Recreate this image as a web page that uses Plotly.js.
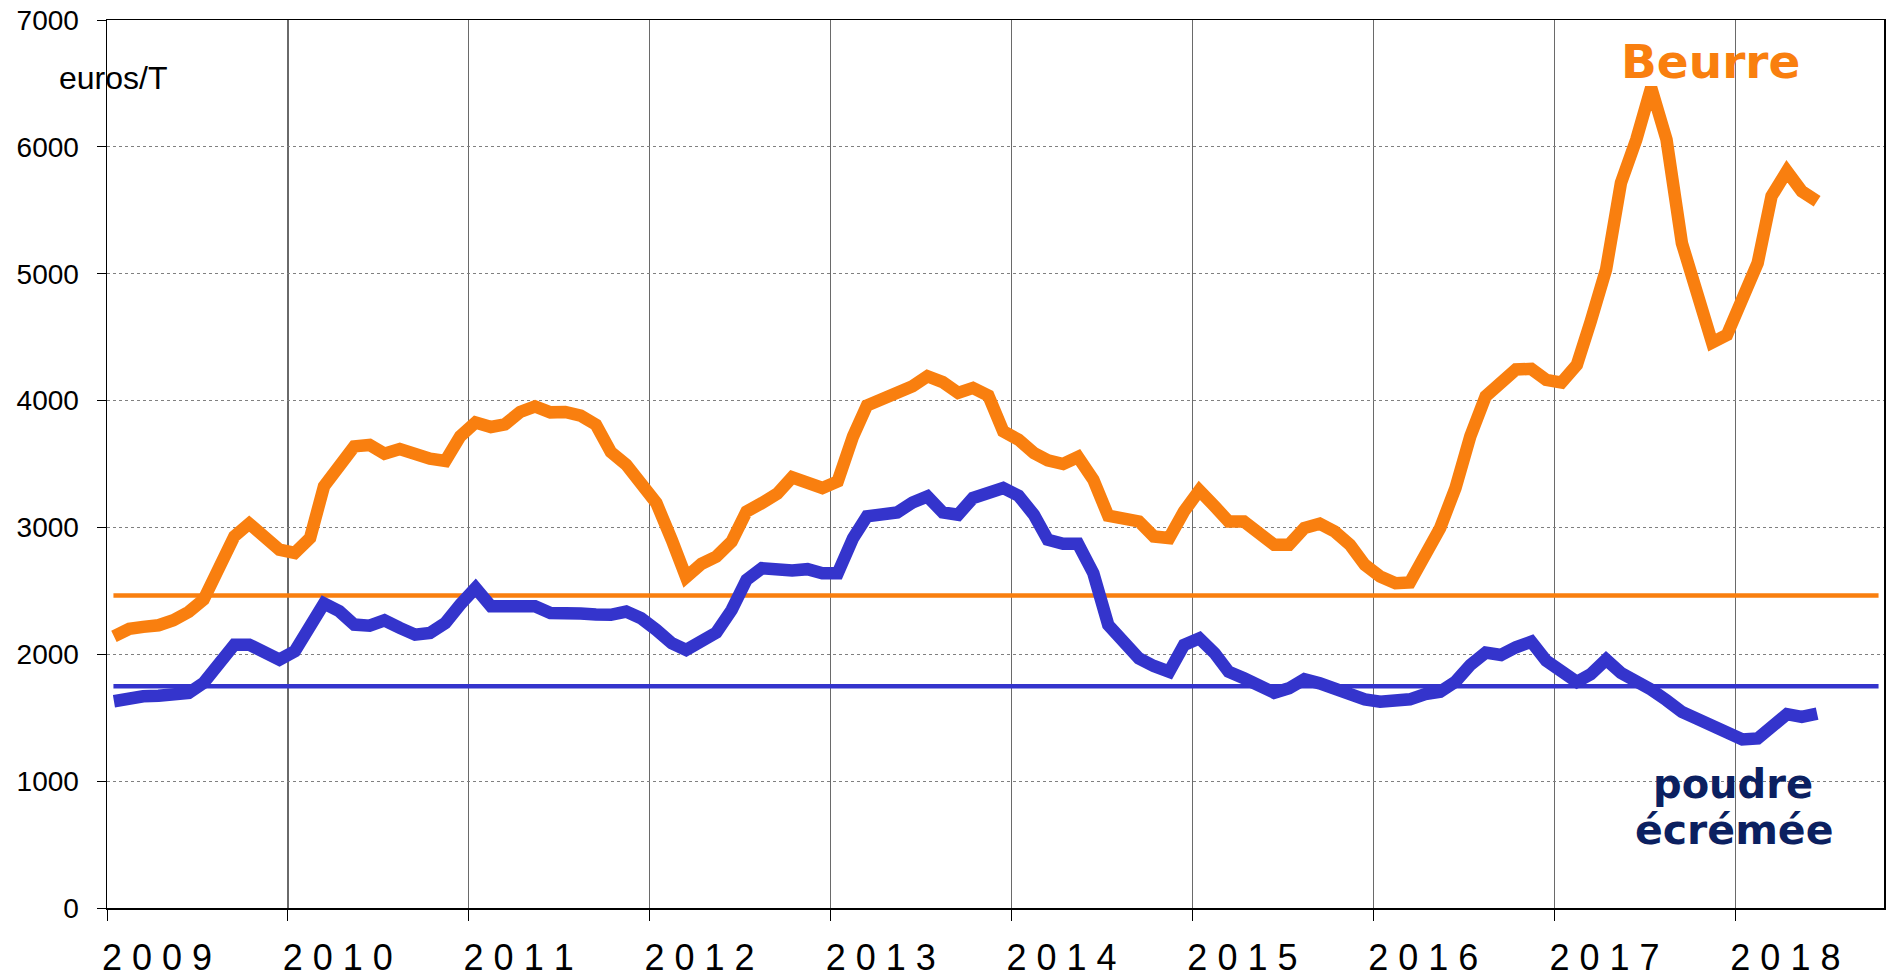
<!DOCTYPE html>
<html>
<head>
<meta charset="utf-8">
<script src="https://cdn.plot.ly/plotly-3.0.1.min.js"></script>
<style>
  html, body { margin: 0; padding: 0; background: #ffffff; }
  #chart { width: 1891px; height: 977px; }
</style>
</head>
<body>
<div id="chart"></div>
<script>
// Monthly prices (euros/T), January 2009 to June 2018
const beurre = [
  2142, 2200, 2216, 2229, 2268, 2334, 2431, 2707, 2930, 3030, 2930, 2825,
  2799, 2917, 3324, 3469, 3639, 3650, 3581, 3618, 3574, 3542, 3524, 3718,
  3828, 3792, 3812, 3910, 3954, 3907, 3910, 3881, 3810, 3595, 3495, 3363,
  3192, 2903, 2608, 2713, 2771, 2889, 3126, 3192, 3266, 3395, 3345, 3311,
  3363, 3718, 3961, 4008, 4066, 4113, 4192, 4145, 4061, 4100, 4039, 3758,
  3692, 3587, 3529, 3500, 3555, 3376, 3092, 3066, 3047, 2929, 2916, 3126,
  3292, 3166, 3047, 3047, 2968, 2863, 2863, 2995, 3029, 2968, 2863, 2705,
  2613, 2561, 2566, 2771, 2995, 3311, 3718, 4034, 4145, 4245, 4250, 4163,
  4142, 4282, 4624, 5032, 5716, 6058, 6466, 6058, 5242, 4874, 4458, 4518,
  4795, 5084, 5611, 5808, 5650, 5571
];
const poudre = [
  1630, 1661, 1669, 1674, 1680, 1696, 1775, 1932, 2076, 2076, 2024, 1958,
  2024, 2234, 2400, 2339, 2234, 2226, 2268, 2208, 2155, 2168, 2247, 2392,
  2523, 2378, 2384, 2389, 2378, 2326, 2313, 2321, 2314, 2311, 2337, 2284,
  2192, 2087, 2034, 2100, 2171, 2350, 2587, 2679, 2661, 2661, 2671, 2639,
  2639, 2916, 3087, 3092, 3118, 3197, 3245, 3118, 3100, 3232, 3266, 3311,
  3250, 3100, 2903, 2871, 2871, 2639, 2232, 2087, 1968, 1908, 1863, 2074,
  2126, 2008, 1863, 1811, 1758, 1697, 1732, 1803, 1771, 1724, 1679, 1645,
  1626, 1639, 1645, 1687, 1705, 1784, 1916, 2013, 1995, 2055, 2100, 1950,
  1861, 1782, 1843, 1958, 1853, 1795, 1722, 1638, 1546, 1493, 1433, 1402,
  1328, 1336, 1433, 1528, 1507, 1533
];
// Reference (intervention) price levels
const refBeurre = 2464;
const refPoudre = 1748;
const refSpan = ['2009-01-14', '2018-10-17'];

// Year ticks
const yearTicks = ['2009', '2010', '2011', '2012', '2013', '2014', '2015', '2016', '2017', '2018'];
const yearTickText = ['2 0 0 9', '2 0 1 0', '2 0 1 1', '2 0 1 2', '2 0 1 3', '2 0 1 4', '2 0 1 5', '2 0 1 6', '2 0 1 7', '2 0 1 8'];
const yTicks = [0, 1000, 2000, 3000, 4000, 5000, 6000, 7000];

// Month categories (mid-month dates) starting January 2009
const months = [];
for (let k = 0; k < beurre.length; k++) {
  const y = 2009 + Math.floor(k / 12);
  const m = (k % 12) + 1;
  months.push(y + '-' + String(m).padStart(2, '0') + '-15');
}

const ORANGE = '#F97F0F';
const BLUE = '#3434CC';
const NAVY = '#0B2060';
const FONT = 'Arial, "Liberation Sans", sans-serif';
const BOLD = '"DejaVu Sans", Arial, sans-serif';

const traces = [
  { x: refSpan, y: [refBeurre, refBeurre], mode: 'lines', line: { color: ORANGE, width: 4.5 }, hoverinfo: 'skip' },
  { x: refSpan, y: [refPoudre, refPoudre], mode: 'lines', line: { color: BLUE, width: 4.5 }, hoverinfo: 'skip' },
  { x: months, y: poudre, mode: 'lines', name: 'poudre écrémée', line: { color: BLUE, width: 12.5 } },
  { x: months, y: beurre, mode: 'lines', name: 'Beurre', line: { color: ORANGE, width: 12.5 } }
];

const layout = {
  width: 1891,
  height: 977,
  margin: { l: 107, r: 7, t: 20, b: 69 },
  paper_bgcolor: '#ffffff',
  plot_bgcolor: '#ffffff',
  showlegend: false,
  font: { family: FONT, color: '#000000' },
  xaxis: {
    type: 'date',
    range: ['2009-01-01', '2018-10-28'],
    tickmode: 'array',
    tickvals: yearTicks.map(y => y + '-01-01'),
    ticktext: yearTickText,
    tickfont: { family: FONT, size: 36, color: '#000000' },
    ticks: 'outside',
    ticklen: 11,
    tickwidth: 1,
    tickcolor: '#000000',
    ticklabelshift: 50,
    ticklabelstandoff: 6,
    showgrid: true,
    gridcolor: '#6a6a6a',
    gridwidth: 1.4,
    showline: true,
    linecolor: '#000000',
    linewidth: 1.5,
    mirror: true,
    zeroline: false,
    fixedrange: true
  },
  yaxis: {
    range: [0, 7000],
    tickmode: 'array',
    tickvals: yTicks,
    ticktext: yTicks.map(String),
    tickfont: { family: FONT, size: 28, color: '#000000' },
    ticks: 'outside',
    ticklen: 9,
    tickwidth: 1,
    tickcolor: '#000000',
    ticklabelstandoff: 12,
    showgrid: true,
    gridcolor: '#808080',
    gridwidth: 1,
    griddash: 'dot',
    showline: true,
    linecolor: '#000000',
    linewidth: 1.5,
    mirror: true,
    zeroline: false,
    fixedrange: true
  },
  annotations: [
    { text: 'euros/T', xref: 'paper', yref: 'paper', x: (57 - 107) / 1777, y: (908 - 78) / 888,
      xanchor: 'left', yanchor: 'middle', showarrow: false, font: { family: FONT, size: 32, color: '#000000' } },
    { text: 'Beurre', xref: 'paper', yref: 'paper', x: (1710 - 107) / 1777, y: (908 - 62) / 888,
      xanchor: 'center', yanchor: 'middle', showarrow: false, font: { family: BOLD, size: 47, color: ORANGE, weight: 'bold' } },
    { text: 'poudre', xref: 'paper', yref: 'paper', x: (1733 - 107) / 1777, y: (908 - 784) / 888,
      xanchor: 'center', yanchor: 'middle', showarrow: false, font: { family: BOLD, size: 40, color: NAVY, weight: 'bold' } },
    { text: 'écrémée', xref: 'paper', yref: 'paper', x: (1734 - 107) / 1777, y: (908 - 830) / 888,
      xanchor: 'center', yanchor: 'middle', showarrow: false, font: { family: BOLD, size: 41, color: NAVY, weight: 'bold' } }
  ]
};

Plotly.newPlot('chart', traces, layout, { displayModeBar: false, staticPlot: true });
</script>
</body>
</html>
